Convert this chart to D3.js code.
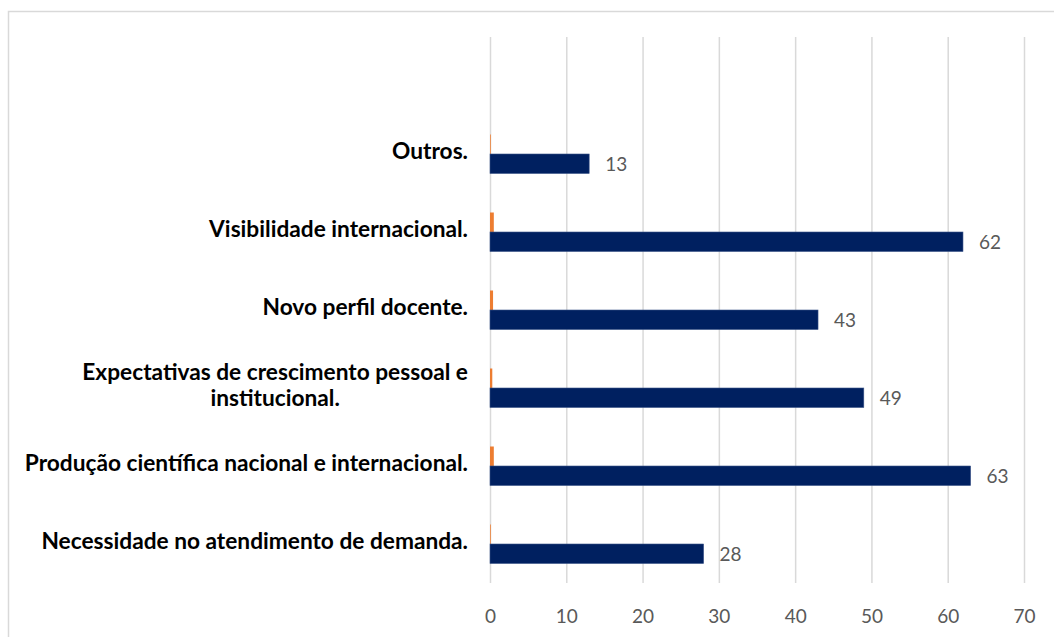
<!DOCTYPE html>
<html>
<head>
<meta charset="utf-8">
<script src="https://cdn.jsdelivr.net/npm/d3@7"></script>
<style>
  html, body { margin: 0; padding: 0; background: #fff; }
  svg { display: block; }
</style>
</head>
<body>
<svg id="chart" width="1054" height="637"></svg>
<script>
// Categories, top to bottom (the first slot is an empty category)
const categories = [
  "",
  "Outros.",
  "Visibilidade internacional.",
  "Novo perfil docente.",
  "Expectativas de crescimento pessoal e|institucional.",
  "Produção científica nacional e internacional.",
  "Necessidade no atendimento de demanda."
];
// Main series (navy) and the small secondary series (orange)
const mainValues = [null, 13, 62, 43, 49, 63, 28];
const minorValues = [null, 0.1, 0.5, 0.4, 0.3, 0.5, 0.1];
const xTicks = [0, 10, 20, 30, 40, 50, 60, 70];

const svg = d3.select("#chart");
const W = 1054, H = 637;
const plot = { left: 490, right: 1024, top: 37, bottom: 583 };

// outer chart frame
svg.append("rect")
  .attr("x", 8.5).attr("y", 11.5)
  .attr("width", W + 20).attr("height", H + 20)
  .attr("fill", "none").attr("stroke", "#d9d9d9").attr("stroke-width", 1.5);

const x = d3.scaleLinear().domain([0, 70]).range([plot.left, plot.right]);
const y = d3.scaleBand().domain(d3.range(categories.length))
  .range([plot.top, plot.bottom]).paddingInner(0.5).paddingOuter(0.25);
const sub = d3.scaleBand().domain(["minor", "main"]).range([0, y.bandwidth()]);

// vertical gridlines
svg.append("g").selectAll("line").data(xTicks).join("line")
  .attr("x1", d => x(d) + 0.5).attr("x2", d => x(d) + 0.5)
  .attr("y1", plot.top).attr("y2", plot.bottom)
  .attr("stroke", "#d9d9d9").attr("stroke-width", 1.5);

// x axis tick labels
const xAxis = d3.axisBottom(x).tickValues(xTicks).tickSize(0).tickPadding(0);
const gx = svg.append("g").attr("transform", `translate(0,${plot.bottom})`).call(xAxis);
gx.select(".domain").remove();
gx.selectAll("text")
  .attr("y", 40).attr("dy", 0)
  .attr("font-family", "Lato, 'Liberation Sans', sans-serif")
  .attr("font-size", 19).attr("fill", "#595959");

const idx = d3.range(categories.length).filter(i => mainValues[i] !== null);

// orange bars
svg.append("g").selectAll("rect").data(idx).join("rect")
  .attr("x", x(0))
  .attr("y", i => y(i) + sub("minor"))
  .attr("width", i => x(minorValues[i]) - x(0))
  .attr("height", sub.bandwidth())
  .attr("fill", "#ed7d31");

// navy bars
svg.append("g").selectAll("rect").data(idx).join("rect")
  .attr("x", x(0))
  .attr("y", i => y(i) + sub("main"))
  .attr("width", i => x(mainValues[i]) - x(0))
  .attr("height", sub.bandwidth())
  .attr("fill", "#002060")
  .attr("stroke", "#3a5488").attr("stroke-width", 0.6);

// value labels
svg.append("g").selectAll("text").data(idx).join("text")
  .attr("x", i => x(mainValues[i]) + 16)
  .attr("y", i => y(i) + sub("main") + sub.bandwidth() / 2)
  .attr("dy", "0.36em")
  .attr("font-family", "Lato, 'Liberation Sans', sans-serif")
  .attr("font-size", 19).attr("fill", "#595959")
  .text(i => mainValues[i]);

// category labels (right aligned block, lines centered within it)
const labelRight = 468;
const lineH = 26;
const catG = svg.append("g");
idx.forEach(i => {
  const lines = categories[i].split("|");
  const cy = y(i) + y.bandwidth() / 2 - 3;
  const t = catG.append("text")
    .attr("font-family", "Lato, 'Liberation Sans', sans-serif")
    .attr("font-weight", "bold").attr("font-size", 22.7).attr("fill", "#000")
    .attr("text-anchor", "middle");
  const spans = lines.map((ln, k) => t.append("tspan")
    .attr("y", cy + (k - (lines.length - 1) / 2) * lineH)
    .attr("dy", "0.36em").text(ln));
  const w = d3.max(spans, s => s.node().getComputedTextLength());
  spans.forEach(s => s.attr("x", labelRight - w / 2));
});
</script>
</body>
</html>
